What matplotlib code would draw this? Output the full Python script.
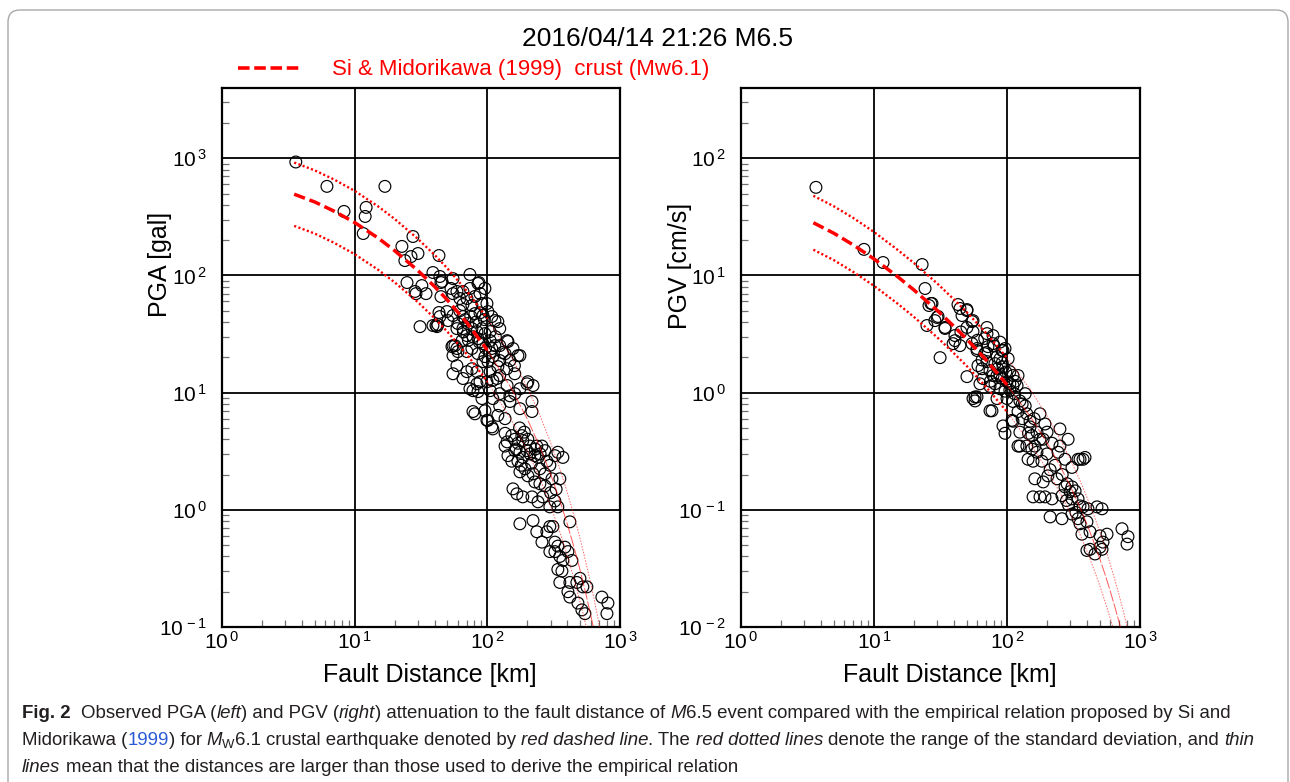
import numpy as np
import matplotlib
matplotlib.use("Agg")
import matplotlib.pyplot as plt
from matplotlib.ticker import LogLocator, FuncFormatter, NullFormatter
from matplotlib.lines import Line2D
from matplotlib.patches import FancyBboxPatch
from matplotlib.transforms import IdentityTransform

plt.rcParams['font.family'] = ['Liberation Sans', 'DejaVu Sans']
plt.rcParams['mathtext.fontset'] = 'custom'
plt.rcParams['mathtext.rm'] = 'Liberation Sans'
plt.rcParams['mathtext.it'] = 'Liberation Sans:italic'
plt.rcParams['axes.unicode_minus'] = False

# ---------------- data ----------------
title_text = "2016/04/14 21:26 M6.5"
legend_text = "Si & Midorikawa (1999)  crust (Mw6.1)"

# observed PGA (left panel)
pga_dist = [3.6, 6.18, 8.31, 16.9, 12.2, 12.0, 11.6, 27.5, 22.7, 26.6, 23.9, 30.0, 43.2, 38.9, 43.9,
            44.7, 73.9, 86.5, 24.8, 32.1, 29.0, 34.5, 31.1, 41.0, 43.2, 44.7, 53.2, 55.1, 59.0, 65.5,
            49.6, 50.5, 59.0, 55.1, 59.0, 55.1, 28.5, 45.5, 55.1, 85.0, 65.5, 70.2, 76.5, 88.0, 91.1,
            99.3, 80.6, 92.7, 101, 114, 43.9, 38.9, 41.7, 55.1, 60.0, 65.5, 71.4, 76.5, 83.5, 91.1,
            95.9, 105, 124, 141, 156, 176, 124, 114, 105, 70.2, 64.4, 57.0, 54.1, 60.0, 59.0,
            70.2, 76.5, 85.0, 95.9, 92.7, 101, 110, 124, 148, 70.2, 76.5, 83.5, 105, 124, 88.0,
            99.3, 118, 105, 77.9, 85.0, 42.4, 202, 221, 141, 161, 83.5, 110, 148, 199, 77.9,
            80.6, 95.9, 101, 110, 120, 124, 148, 176, 217, 217, 136, 141, 136, 143, 153,
            161, 170, 182, 185, 202, 209, 199, 176, 161, 153, 170, 185, 228, 236, 258,
            241, 249, 272, 281, 296, 323, 340, 371, 307, 352, 192, 176, 202, 221, 228,
            249, 272, 156, 167, 185, 217, 241, 262, 296, 323, 340, 176, 221, 236, 258,
            281, 296, 312, 323, 296, 323, 340, 352, 384, 405, 371, 340, 365, 419, 434,
            352, 419, 405, 419, 473, 499, 525, 563, 482, 516, 544, 730, 811, 797, 62.1,
            73.9, 80.6, 95.9, 108, 85.0, 92.7, 108, 136, 120, 65.5, 55.1, 65.5, 73.9, 108,
            99.3, 120, 143, 170, 110, 91.1, 161, 176, 124, 136, 272,
            62, 68, 75, 82, 88, 95, 78, 87, 97, 105, 66, 72, 115, 130, 140,
            160, 175, 190, 210, 230, 165, 180, 215, 250, 300, 330]
pga_obs = [930, 576, 352, 576, 381, 319, 228, 215, 177, 145, 134, 154, 148, 106, 98,
           87, 102, 87, 87, 82, 70, 70, 36.6, 37.4, 48.3, 66, 77.5, 70, 73, 56.5,
           49.2, 41.2, 35.2, 25.2, 23.8, 20.7, 73, 89, 94, 85.5, 73, 63.6, 55.4, 70.2, 57.6,
           57.6, 47.3, 45.5, 49.2, 41.2, 44.6, 37.4, 36.6, 45.5, 38.9, 44.6, 38.9, 35.2, 33.2, 35.2,
           31.9, 33.2, 35.2, 27.8, 23.8, 20.7, 25.2, 25.2, 27.8, 30.7, 27.8, 25.2, 24.7, 22.4, 17.0,
           22.4, 23.8, 21.5, 20.3, 18.4, 18.4, 20.3, 18.8, 18.8, 15.1, 16.0, 15.1, 15.1, 14.0, 12.4,
           12.4, 13.2, 10.4, 10.4, 10.2, 38.1, 12.4, 11.5, 11.5, 9.8, 11.9, 12.7, 9.4, 11.9, 6.9,
           6.6, 7.0, 5.8, 4.9, 6.4, 7.7, 8.4, 7.3, 8.4, 6.9, 4.5, 3.8, 3.5, 2.9, 4.3,
           4.0, 3.7, 4.3, 3.9, 4.0, 3.5, 3.2, 3.1, 3.2, 2.6, 2.6, 2.8, 2.9, 3.5, 3.5,
           2.8, 2.24, 3.2, 2.6, 2.4, 2.9, 3.1, 2.8, 1.84, 1.84, 2.24, 2.11, 1.95, 2.03, 1.73,
           1.67, 1.60, 1.51, 1.37, 1.29, 1.29, 1.17, 1.29, 1.06, 1.19, 1.06, 0.76, 0.81, 0.65, 0.53,
           0.65, 0.72, 0.72, 0.53, 0.44, 0.44, 0.49, 0.40, 0.48, 0.44, 0.37, 0.31, 0.30, 0.79, 0.37,
           0.24, 0.24, 0.20, 0.18, 0.24, 0.26, 0.22, 0.22, 0.16, 0.14, 0.13, 0.18, 0.16, 0.13, 63.6,
           77.5, 66.2, 77.5, 44.6, 28.9, 26.2, 23.8, 21.5, 16.7, 35.2, 14.5, 13.2, 10.8, 5.1,
           5.8, 40.4, 27.3, 20.7, 8.9, 8.9, 14.5, 10.8, 9.8, 6.0, 2.03,
           50, 42, 45, 40, 48, 42, 30, 27, 24, 22, 33, 28, 30, 22, 16,
           17, 5.0, 4.6, 3.0, 3.3, 3.3, 2.4, 2.5, 3.0, 1.4, 1.5]

# observed PGV (right panel)
pgv_dist = [3.66, 8.41, 11.7, 23.0, 24.2, 26.8, 25.9, 29.8, 28.7, 34.2, 25.0, 31.4, 42.8, 50.0, 45.9,
            54.6, 55.5, 70.7, 78.5, 40.6, 39.3, 44.3, 54.6, 59.5, 50.0, 55.5, 59.5, 64.9, 70.7, 84.1,
            91.7, 96.6, 78.5, 88.6, 105, 121, 137, 111, 74.5, 84.1, 100, 111, 74.5, 121, 149,
            109, 27.3, 30.3, 34.2, 44.3, 50.0, 55.5, 70.7, 78.5, 40.6, 59.5, 71.9, 60.5, 66.0, 74.5,
            88.6, 93.3, 84.1, 91.7, 100, 111, 119, 125, 57.5, 57.5, 77.1, 93.3, 96.6, 125, 149,
            154, 168, 177, 141, 162, 218, 111, 141, 137, 125, 154, 168, 187, 200, 250,
            242, 144, 157, 183, 211, 230, 273, 342, 386, 308, 162, 187, 203, 238, 157,
            177, 193, 218, 259, 273, 283, 308, 298, 325, 308, 342, 354, 373, 406, 475,
            518, 211, 259, 308, 342, 354, 399, 421, 366, 500, 527, 565, 399, 500, 732,
            812, 799, 121, 354, 373, 421, 459, 518, 81.2, 93.3, 102, 68.0, 88.6, 96.6, 81.2,
            114, 105, 62.6, 88.6, 68.0, 177, 193, 250, 288, 130,
            70, 80, 85, 92, 98, 65, 75, 105, 115, 60, 50, 45, 130, 160, 145,
            200, 260, 290, 330, 280]
pgv_obs = [56.5, 16.7, 12.9, 12.4, 7.74, 5.77, 5.54, 4.38, 4.12, 3.60, 3.74, 1.99, 5.65, 5.12, 4.55,
           4.04, 3.32, 3.60, 3.07, 3.07, 2.62, 2.52, 2.62, 2.29, 1.37, 0.89, 0.92, 1.60, 1.84, 2.03,
           2.29, 2.38, 1.40, 1.40, 1.51, 1.40, 0.98, 1.15, 1.13, 0.89, 0.89, 0.84, 0.70, 0.69, 0.57,
           0.58, 5.77, 4.47, 3.53, 5.23, 5.02, 4.12, 3.19, 2.62, 2.78, 2.38, 2.47, 1.70, 1.32, 1.54,
           1.95, 2.29, 1.40, 1.32, 1.24, 1.40, 1.15, 0.85, 0.92, 0.85, 0.70, 0.52, 0.45, 0.46, 0.51,
           0.43, 0.46, 0.40, 0.35, 0.35, 0.37, 0.57, 0.66, 0.77, 0.35, 0.33, 0.31, 0.40, 0.46, 0.35,
           0.31, 0.27, 0.26, 0.26, 0.22, 0.24, 0.27, 0.27, 0.28, 0.23, 0.184, 0.173, 0.195, 0.184, 0.129,
           0.129, 0.129, 0.124, 0.132, 0.157, 0.167, 0.157, 0.143, 0.145, 0.124, 0.124, 0.108, 0.106, 0.102, 0.106,
           0.102, 0.087, 0.084, 0.092, 0.084, 0.076, 0.079, 0.065, 0.062, 0.060, 0.053, 0.062, 0.045, 0.048, 0.069,
           0.059, 0.051, 0.35, 0.27, 0.27, 0.046, 0.042, 0.046, 1.77, 1.66, 1.95, 2.15, 1.08, 1.03, 1.19,
           0.98, 1.19, 1.19, 2.7, 2.9, 0.66, 0.54, 0.49, 0.40, 0.60,
           2.2, 2.5, 1.6, 1.8, 1.5, 1.9, 1.25, 1.05, 1.25, 2.8, 3.6, 3.3, 0.8, 0.6, 0.45,
           0.30, 0.20, 0.11, 0.095, 0.12]

# Si & Midorikawa (1999) crustal relation
curve_dist = [3.5, 5, 7, 10, 15, 20, 30, 40, 50, 70, 100]
thin_dist = [100, 150, 200, 250, 300, 350, 400, 450, 500, 550, 600, 650, 700, 750, 800, 850]

pga_mean = [494, 424, 354, 283, 209, 163, 110, 80.5, 61.7, 39.6, 23.1]
pga_upper = [920, 789, 659, 527, 389, 304, 205, 150, 115, 73.7, 43.0]
pga_lower = [265, 228, 190, 152, 112, 87.5, 59.1, 43.2, 33.1, 21.3, 12.4]
pga_mean_thin = [23.1, 11.1, 5.97, 3.40, 2.01, 1.225, 0.76, 0.48, 0.306, 0.197, 0.128, 0.0838, 0.055, 0.0364]
pga_upper_thin = [43.0, 20.7, 11.1, 6.33, 3.74, 2.28, 1.415, 0.894, 0.570, 0.367, 0.238, 0.156, 0.102, 0.0678]
pga_lower_thin = [12.4, 5.96, 3.21, 1.826, 1.08, 0.658, 0.408, 0.258, 0.164, 0.106, 0.0687, 0.045]

pgv_mean = [28.2, 22.9, 18.2, 13.85, 9.80, 7.51, 5.01, 3.67, 2.85, 1.89, 1.166]
pgv_upper = [47.9, 38.9, 30.9, 23.5, 16.6, 12.75, 8.51, 6.23, 4.84, 3.21, 1.98]
pgv_lower = [16.6, 13.5, 10.7, 8.16, 5.77, 4.42, 2.95, 2.16, 1.68, 1.11, 0.687]
pgv_mean_thin = [1.166, 0.624, 0.373, 0.238, 0.158, 0.1077, 0.0749, 0.0529, 0.0379, 0.0274, 0.0199,
                 0.0146, 0.0108, 0.0080, 0.0060]
pgv_upper_thin = [1.98, 1.06, 0.633, 0.404, 0.268, 0.183, 0.127, 0.0898, 0.0644, 0.0465, 0.0338,
                  0.0248, 0.0183, 0.0136, 0.0101, 0.0075]
pgv_lower_thin = [0.687, 0.367, 0.220, 0.140, 0.093, 0.0634, 0.0441, 0.0312, 0.0223, 0.0161, 0.0117, 0.0086]

# ---------------- figure ----------------
W, H = 1290, 782
fig = plt.figure(figsize=(W / 100, H / 100), dpi=100)

# rounded outer frame
frame = FancyBboxPatch((8, -40), 1280, 812, boxstyle="round,pad=0,rounding_size=12",
                       transform=IdentityTransform(), facecolor='none', edgecolor='#a8a8a8', lw=1.0)
fig.add_artist(frame)


def px_axes(x0, y0, x1, y1):
    return fig.add_axes([x0 / W, 1 - y1 / H, (x1 - x0) / W, (y1 - y0) / H])


def fmt(v, pos):
    e = int(round(np.log10(v)))
    return r'$\mathregular{10^{\,%d}}$' % e


RED = '#ff0000'
DASH = (0, (3.3, 1.4))
DOT = (0, (0.9, 1.0))


def setup(ax, ylim):
    ax.set_xscale('log')
    ax.set_yscale('log')
    ax.set_xlim(1, 1000)
    ax.set_ylim(*ylim)
    for a in (ax.xaxis, ax.yaxis):
        a.set_major_locator(LogLocator(base=10, numticks=12))
        a.set_minor_locator(LogLocator(base=10, subs=np.arange(2, 10), numticks=100))
        a.set_major_formatter(FuncFormatter(fmt))
        a.set_minor_formatter(NullFormatter())
    ax.grid(True, which='major', color='black', lw=1.3)
    ax.grid(False, which='minor')
    ax.tick_params(which='major', length=0, labelsize=15)
    ax.tick_params(axis='y', which='major', pad=11)
    ax.tick_params(axis='x', which='major', pad=3)
    ax.tick_params(which='minor', direction='in', length=5, width=0.9, color='#707070',
                   top=False, right=False)
    for s in ax.spines.values():
        s.set_linewidth(1.6)
        s.set_color('black')


def draw_panel(ax, dist, obs, mean, upper, lower, mean_t, upper_t, lower_t):
    ax.scatter(dist, obs, s=72, facecolors='none', edgecolors='black', linewidths=0.85, zorder=3)
    ax.plot(curve_dist, mean, color=RED, lw=2.5, ls=DASH, zorder=4)
    ax.plot(curve_dist, upper, color=RED, lw=1.7, ls=DOT, zorder=4)
    ax.plot(curve_dist, lower, color=RED, lw=1.7, ls=DOT, zorder=4)
    ax.plot(thin_dist[:len(mean_t)], mean_t, color=RED, lw=0.7, alpha=0.65, ls=(0, (12, 2)), zorder=4)
    ax.plot(thin_dist[:len(upper_t)], upper_t, color=RED, lw=0.7, alpha=0.6, ls=(0, (1.5, 1.5)), zorder=4)
    ax.plot(thin_dist[:len(lower_t)], lower_t, color=RED, lw=0.7, alpha=0.6, ls=(0, (1.5, 1.5)), zorder=4)


axL = px_axes(222, 88, 620, 627)
axR = px_axes(741, 88, 1140, 627)
setup(axL, (0.1, 3981))
setup(axR, (0.01, 398.1))
draw_panel(axL, pga_dist, pga_obs, pga_mean, pga_upper, pga_lower,
           pga_mean_thin, pga_upper_thin, pga_lower_thin)
draw_panel(axR, pgv_dist, pgv_obs, pgv_mean, pgv_upper, pgv_lower,
           pgv_mean_thin, pgv_upper_thin, pgv_lower_thin)

# axis labels
fig.text(160 / W, 1 - 264 / H, 'PGA [gal]', rotation=90, ha='center', va='center', fontsize=18)
fig.text(680 / W, 1 - 266 / H, 'PGV [cm/s]', rotation=90, ha='center', va='center', fontsize=18)
fig.text(430 / W, 1 - 675 / H, 'Fault Distance [km]', ha='center', va='center', fontsize=18)
fig.text(950 / W, 1 - 675 / H, 'Fault Distance [km]', ha='center', va='center', fontsize=18)

# title and legend
fig.text(658 / W, 1 - 39 / H, title_text, ha='center', va='center', fontsize=19)
fig.add_artist(Line2D([238 / W, 301 / W], [1 - 68 / H, 1 - 68 / H], color=RED, lw=2.6,
                      ls=(0, (3.2, 1.3)), transform=fig.transFigure))
fig.text(332 / W, 1 - 69 / H, legend_text, ha='left', va='center', fontsize=16, color=RED)

# caption
renderer = fig.canvas.get_renderer()
CAPFONT = ['Liberation Sans', 'DejaVu Sans']
CAPCOL = '#231f20'


def measure(s, size, **kw):
    t = fig.text(0, 0, s, fontsize=size, family=CAPFONT, **kw)
    w = t.get_window_extent(renderer).width
    t.remove()
    return w


def draw_pieces(pieces, x0, ybase, size, keep=True):
    sp = measure('a a', size) - measure('aa', size)
    x = x0
    made = []
    for txt, st in pieces:
        lead = len(txt) - len(txt.lstrip(' '))
        trail = len(txt) - len(txt.rstrip(' '))
        core = txt.strip(' ')
        x += lead * sp
        if core:
            t = fig.text(x / W, 1 - (ybase + st.get('dy', 0)) / H, core, va='baseline', ha='left',
                         fontsize=size * st.get('scale', 1.0), family=CAPFONT,
                         fontweight=st.get('weight', 'normal'), fontstyle=st.get('style', 'normal'),
                         color=st.get('color', CAPCOL))
            x += t.get_window_extent(renderer).width
            made.append(t)
        x += trail * sp
    if not keep:
        for t in made:
            t.remove()
    return x


N = {}
I = {'style': 'italic'}
B = {'weight': 'bold'}
line1 = [("Fig. 2", B), ("  Observed PGA (", N), ("left", I), (") and PGV (", N), ("right", I),
         (") attenuation to the fault distance of ", N), ("M", I),
         ("6.5 event compared with the empirical relation proposed by Si and", N)]
line2 = [("Midorikawa (", N), ("1999", {'color': '#2a5bd7'}), (") for ", N), ("M", I),
         ("W", {'scale': 0.7, 'dy': 3}), ("6.1 crustal earthquake denoted by ", N),
         ("red dashed line", I), (". The ", N), ("red dotted lines", I),
         (" denote the range of the standard deviation, and ", N), ("thin", I)]
line3 = [("lines", I), (" mean that the distances are larger than those used to derive the empirical relation", N)]

x_end = draw_pieces(line1, 22, 718, 12, keep=False)
cap_size = 12 * (1240 - 22) / (x_end - 22)
draw_pieces(line1, 22, 718, cap_size)
draw_pieces(line2, 22, 745, cap_size)
draw_pieces(line3, 22, 772, cap_size)

fig.savefig('out.png', dpi=100)
